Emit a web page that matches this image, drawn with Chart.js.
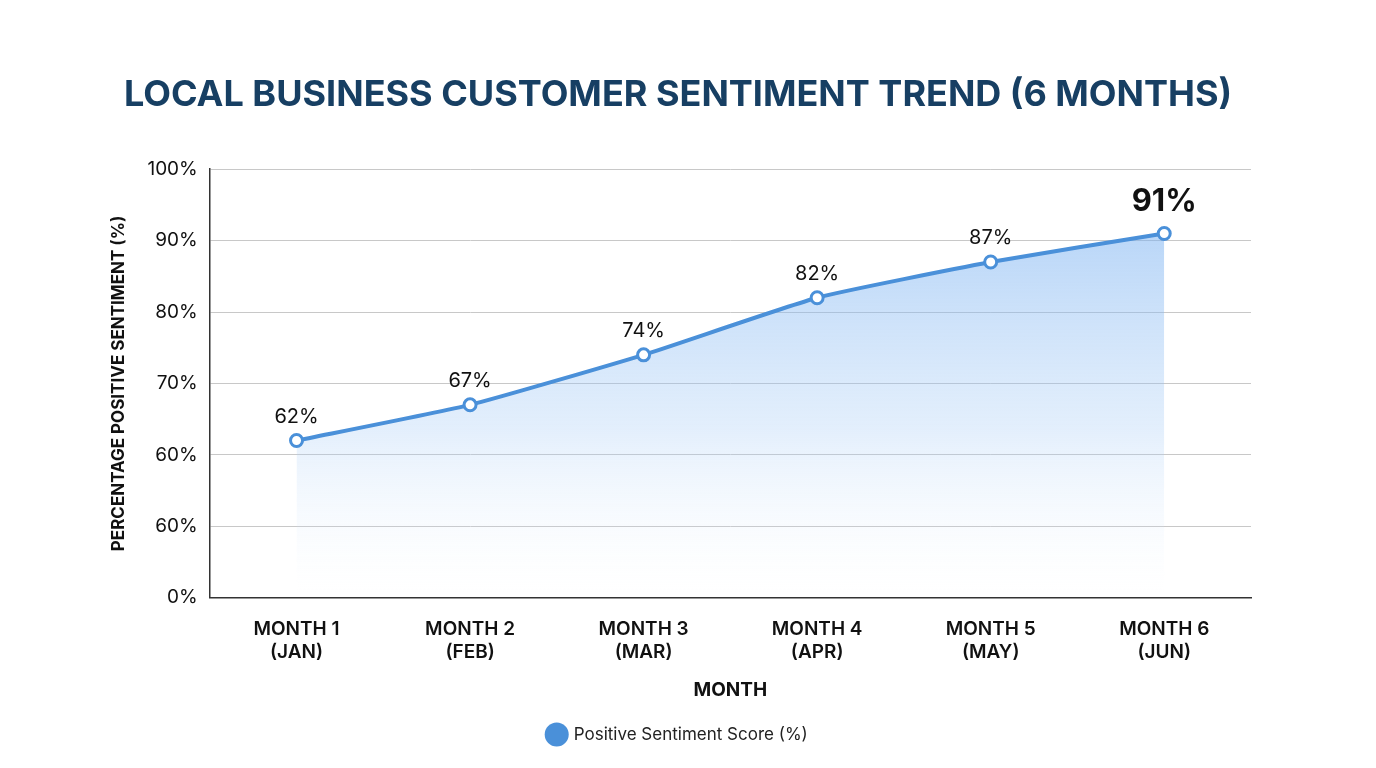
<!DOCTYPE html>
<html>
<head>
<meta charset="utf-8">
<script src="https://cdn.jsdelivr.net/npm/chart.js@4.4.1/dist/chart.umd.min.js"></script>
<style>
  html, body { margin: 0; padding: 0; background: #fff; }
  #wrap { width: 1376px; height: 768px; }
</style>
</head>
<body>
<div id="wrap"><canvas id="c"></canvas></div>
<script>
// --- dati ---
const months = [["MONTH 1", "(JAN)"], ["MONTH 2", "(FEB)"], ["MONTH 3", "(MAR)"],
                ["MONTH 4", "(APR)"], ["MONTH 5", "(MAY)"], ["MONTH 6", "(JUN)"]];
const sentiment = [62, 67, 74, 82, 87, 91];
// etichette asse y come nel grafico originale (dal basso verso l'alto)
const tickValues = [40, 50, 60, 70, 80, 90, 100];
const tickLabels = ["0%", "60%", "60%", "70%", "80%", "90%", "100%"];

const FONT = "Inter, 'Open Sans', sans-serif";
const BLUE = "#4a90d9";

// etichette sopra i punti
const pointLabels = {
  id: "pointLabels",
  afterDatasetsDraw(chart){
    const { ctx } = chart;
    const meta = chart.getDatasetMeta(0);
    ctx.save();
    ctx.textAlign = "center";
    ctx.textBaseline = "bottom";
    ctx.fillStyle = "#111";
    meta.data.forEach((p, i) => {
      const last = i === meta.data.length - 1;
      ctx.font = (last ? "bold 31px " : "20px ") + FONT;
      ctx.fillText(sentiment[i] + "%", p.x, p.y - (last ? 16 : 14));
    });
    ctx.restore();
  }
};

new Chart(document.getElementById("c"), {
  type: "line",
  data: {
    labels: months,
    datasets: [{
      label: "Positive Sentiment Score (%)",
      data: sentiment,
      borderColor: BLUE, borderWidth: 4, tension: 0.15,
      pointRadius: 6, pointBorderWidth: 3, pointBackgroundColor: "#fff", pointBorderColor: BLUE,
      fill: "start",
      backgroundColor: (c) => {
        const a = c.chart.chartArea;
        if (!a) return "rgba(74,144,217,0.3)";
        const g = c.chart.ctx.createLinearGradient(0, a.top, 0, a.bottom);
        g.addColorStop(0, "rgba(110,170,240,0.6)");
        g.addColorStop(0.6, "rgba(160,200,245,0.3)");
        g.addColorStop(0.93, "rgba(220,235,252,0.05)");
        g.addColorStop(1, "rgba(255,255,255,0)");
        return g;
      }
    }]
  },
  options: {
    responsive: true, maintainAspectRatio: false, animation: false,
    layout: { padding: { left: 105, right: 125, top: 74, bottom: 15 } },
    plugins: {
      title: {
        display: true, text: "LOCAL BUSINESS CUSTOMER SENTIMENT TREND (6 MONTHS)",
        color: "#173f63", font: { family: FONT, size: 36, weight: "bold" },
        padding: { top: 0, bottom: 52 }
      },
      legend: {
        position: "bottom",
        labels: {
          usePointStyle: true, pointStyle: "circle", boxWidth: 18, boxHeight: 18,
          color: "#222", font: { family: FONT, size: 17 }, padding: 20,
          generateLabels: () => [{
            text: "Positive Sentiment Score (%)", fillStyle: BLUE, strokeStyle: BLUE,
            lineWidth: 0, pointStyle: "circle", fontColor: "#222"
          }]
        }
      },
      tooltip: { enabled: false }
    },
    scales: {
      x: {
        offset: true,
        grid: { display: false },
        border: { color: "#333", width: 1.5 },
        ticks: { color: "#111", font: { family: FONT, size: 19, weight: "600" }, padding: 12 },
        title: { display: true, text: "MONTH", color: "#111", font: { family: FONT, size: 19, weight: "bold" }, padding: { top: 4 } }
      },
      y: {
        min: 40, max: 100,
        afterBuildTicks: (s) => { s.ticks = tickValues.map(v => ({ value: v })); },
        grid: { color: "#c8c8c8", drawTicks: false },
        border: { color: "#333", width: 1.5 },
        ticks: {
          color: "#111", font: { family: FONT, size: 19 }, padding: 12,
          callback: (v) => tickLabels[tickValues.indexOf(v)]
        },
        title: { display: true, text: "PERCENTAGE POSITIVE SENTIMENT (%)", color: "#111", font: { family: FONT, size: 17, weight: "bold" }, padding: { bottom: 6 } }
      }
    }
  },
  plugins: [pointLabels]
});
</script>
</body>
</html>
